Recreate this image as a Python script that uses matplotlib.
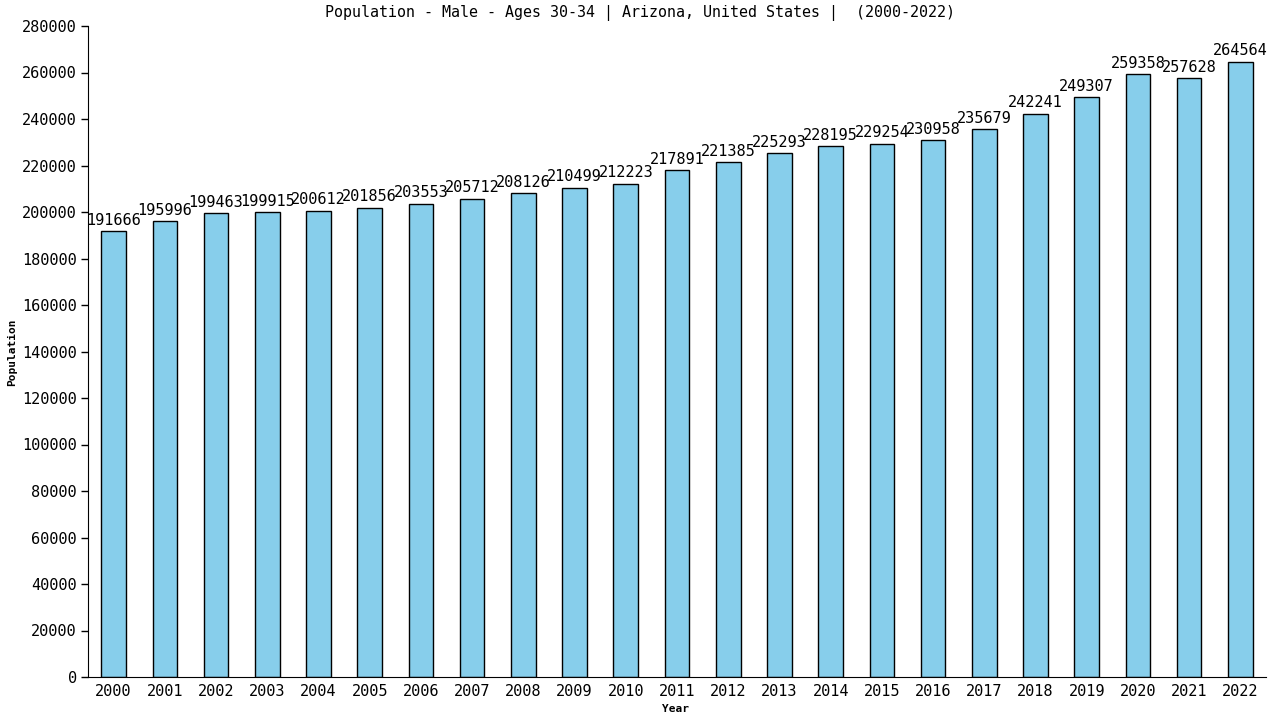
import matplotlib
matplotlib.use("Agg")
import matplotlib.pyplot as plt

years = [str(y) for y in range(2000, 2023)]
values = [191666, 195996, 199463, 199915, 200612, 201856, 203553, 205712, 208126,
          210499, 212223, 217891, 221385, 225293, 228195, 229254, 230958, 235679,
          242241, 249307, 259358, 257628, 264564]
yticks = list(range(0, 280001, 20000))

plt.rcParams['font.family'] = ['DejaVu Sans Mono']

fig = plt.figure(figsize=(12.8, 7.2), dpi=100)
ax = fig.add_axes([88/1280, 43/720, 1178/1280, 651/720])
x = list(range(len(years)))
bars = ax.bar(x, values, width=0.48, color='#87CEEB', edgecolor='black', linewidth=1)
for xi, v in zip(x, values):
    ax.text(xi, v + 1500, str(v), ha='center', va='bottom', fontsize=11)
ax.set_xlim(-0.5, len(years) - 0.5)
ax.set_ylim(0, 280000)
ax.set_yticks(yticks)
ax.set_yticklabels([str(t) for t in yticks], fontsize=11)
ax.set_xticks(x)
ax.set_xticklabels(years, fontsize=11)
ax.tick_params(axis='x', length=0, pad=5)
ax.tick_params(axis='y', length=5, width=1, pad=3)
for s in ['top', 'right']:
    ax.spines[s].set_visible(False)
fig.text(640/1280, 1 - 13/720,
         'Population - Male - Ages 30-34 | Arizona, United States |  (2000-2022)',
         ha='center', va='center', fontsize=10.8)
fig.text(12/1280, 1 - 352/720, 'Population', rotation=90, ha='center', va='center',
         fontsize=8, fontweight='bold')
fig.text(675/1280, 1 - 709/720, 'Year', ha='center', va='center', fontsize=8, fontweight='bold')
fig.savefig('out.png', dpi=100)
